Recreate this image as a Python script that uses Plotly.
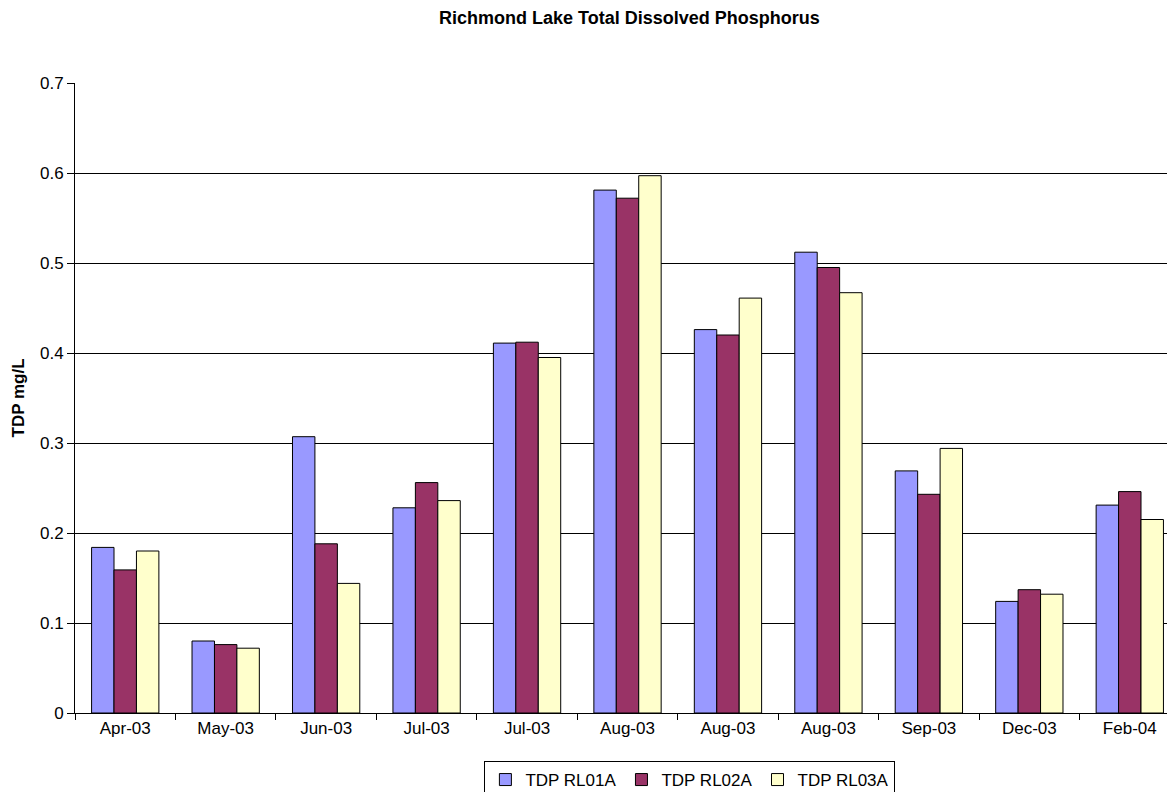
import plotly.graph_objects as go

categories = ["Apr-03", "May-03", "Jun-03", "Jul-03", "Jul-03", "Aug-03",
              "Aug-03", "Aug-03", "Sep-03", "Dec-03", "Feb-04"]
rl01a = [0.184, 0.080, 0.307, 0.228, 0.411, 0.581, 0.426, 0.512, 0.269, 0.124, 0.231]
rl02a = [0.159, 0.076, 0.188, 0.256, 0.412, 0.572, 0.420, 0.495, 0.243, 0.137, 0.246]
rl03a = [0.180, 0.072, 0.144, 0.236, 0.395, 0.597, 0.461, 0.467, 0.294, 0.132, 0.215]
series_names = ["TDP RL01A", "TDP RL02A", "TDP RL03A"]
colors = ["#9999FF", "#993366", "#FFFFCC"]

xpos = list(range(len(categories)))
fig = go.Figure()
for name, vals, col in zip(series_names, [rl01a, rl02a, rl03a], colors):
    fig.add_trace(go.Bar(x=xpos, y=vals, name=name, marker_color=col,
                         marker_line_color="black", marker_line_width=1))

fig.update_layout(
    width=1167, height=784,
    paper_bgcolor="white", plot_bgcolor="white",
    font=dict(family="Liberation Sans, Arial", size=17, color="black"),
    title=dict(text="<b>Richmond Lake Total Dissolved Phosphorus</b>",
               xref="paper", x=0.504, xanchor="center", y=1 - 10 / 784, yanchor="middle",
               font=dict(size=18)),
    margin=dict(l=67, r=0, t=75, b=79, autoexpand=False),
    barmode="group", bargap=0.33, bargroupgap=0,
    showlegend=True,
    legend=dict(orientation="h", x=0.559, xanchor="center", y=-0.0762, yanchor="top",
                bordercolor="black", borderwidth=1, font=dict(size=17),
                itemwidth=30, tracegroupgap=0),
)
fig.update_xaxes(
    tickmode="array", tickvals=xpos, ticktext=categories, ticks="",
    range=[-0.5, 10.45], showgrid=False, showline=True, linecolor="black",
    linewidth=1,
    minor=dict(tickmode="array", tickvals=[i - 0.5 for i in range(len(categories) + 1)],
               ticks="outside", ticklen=6, tickcolor="black", showgrid=False),
)
fig.update_yaxes(
    range=[0, 0.7], dtick=0.1, tick0=0, tickformat="~g",
    showgrid=True, gridcolor="black", gridwidth=1,
    showline=True, linecolor="black", linewidth=1,
    ticks="outside", ticklen=7, tickcolor="black",
    title=dict(text="<b>TDP mg/L</b>", font=dict(size=17), standoff=11),
    zeroline=False,
)
fig.write_html("out.html")
